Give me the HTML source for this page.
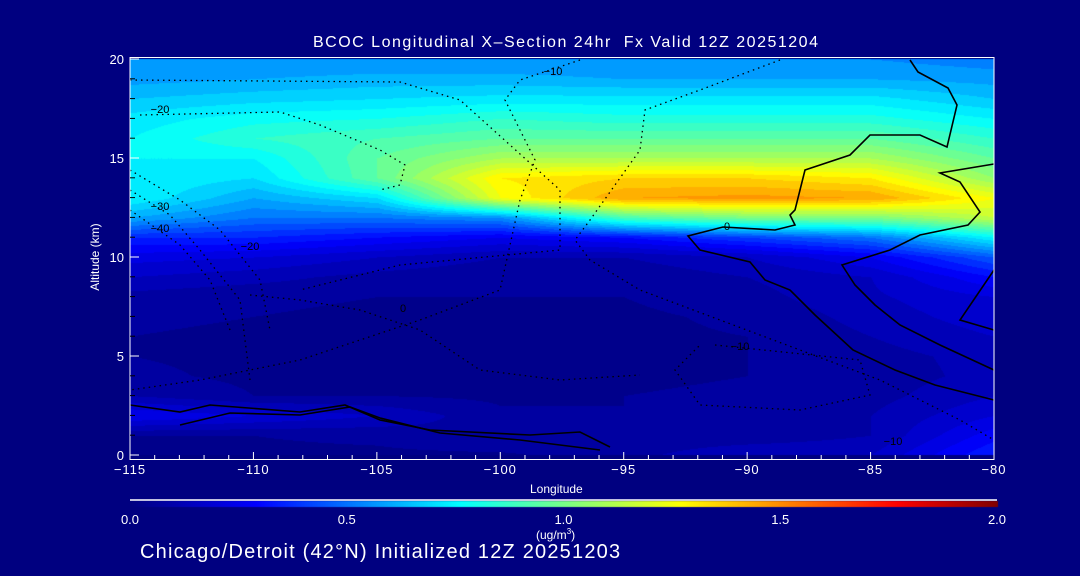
<!DOCTYPE html>
<html><head><meta charset="utf-8">
<style>
html,body{margin:0;padding:0;background:#000080;}
#wrap{position:relative;width:1080px;height:576px;background:#000080;overflow:hidden;font-family:"Liberation Sans",sans-serif;color:#fff;}
.t{position:absolute;white-space:nowrap;color:#fff;}
canvas,svg{position:absolute;left:0;top:0;}
</style></head>
<body>
<div id="wrap">
<canvas id="field" width="1080" height="576"></canvas>
<svg id="ov" width="1080" height="576"></svg>
<div class="t" style="left:313px;top:34px;font-size:16px;letter-spacing:1.5px;">BCOC Longitudinal X–Section 24hr&nbsp; Fx Valid 12Z 20251204</div>
<div class="t" style="left:50px;top:250px;font-size:12px;transform:rotate(-90deg);transform-origin:center;width:90px;text-align:center;">Altitude (km)</div>
<div class="t" style="left:530px;top:482px;font-size:12px;">Longitude</div>
<div class="t" style="left:536px;top:527px;font-size:12px;">(ug/m<sup style="font-size:8px">3</sup>)</div>
<div class="t" style="left:140px;top:541px;font-size:20px;letter-spacing:1.2px;">Chicago/Detroit (42°N) Initialized 12Z 20251203</div>
</div>
<script>
// ---- data ----
const lons = [-115,-110,-105,-100,-95,-90,-85,-80];
const alts = [0,1,2,3,4,5,6,7,8,9,10,11,12,13,14,15,16,17,18,19,20];
const colM115 = [0.04,0.05,0.25,0.1,0.06,0.05,0.05,0.06,0.08,0.15,0.22,0.35,0.6,0.75,0.75,0.75,0.75,0.72,0.65,0.58,0.55];
const colM110 = [0.04,0.05,0.2,0.05,0.04,0.04,0.04,0.05,0.06,0.12,0.2,0.35,0.5,0.6,0.7,0.75,0.85,0.78,0.68,0.6,0.55];
const colM105 = [0.04,0.06,0.15,0.05,0.04,0.04,0.04,0.04,0.05,0.08,0.15,0.3,0.5,0.7,0.95,0.95,0.9,0.8,0.7,0.62,0.55];
const colM100 = [0.04,0.1,0.06,0.04,0.04,0.04,0.04,0.04,0.05,0.06,0.1,0.25,0.55,1.25,1.3,1.1,0.95,0.85,0.72,0.62,0.55];
const colM95 = [0.08,0.06,0.05,0.05,0.04,0.04,0.04,0.04,0.05,0.06,0.1,0.3,0.9,1.45,1.35,1.1,0.95,0.82,0.72,0.6,0.55];
const colM90 = [0.15,0.06,0.06,0.06,0.05,0.05,0.05,0.06,0.08,0.1,0.15,0.4,1.0,1.47,1.35,1.1,0.95,0.82,0.72,0.6,0.55];
const colM85 = [0.15,0.1,0.1,0.08,0.07,0.08,0.1,0.12,0.14,0.15,0.25,0.5,1.0,1.45,1.3,1.1,0.95,0.82,0.72,0.6,0.55];
const colM80 = [0.35,0.28,0.2,0.15,0.12,0.12,0.15,0.18,0.2,0.3,0.45,0.75,1.15,1.25,1.05,0.95,0.85,0.75,0.65,0.58,0.52];
const xTicks = [-115,-110,-105,-100,-95,-90,-85,-80];
const yTicks = [0,5,10,15,20];
const cbTicks = [0.0,0.5,1.0,1.5,2.0];
// ---- scales ----
const X0=130,X1=994,Y0=455,Y1=59;
const xs=v=>X0+(v-(-115))/35*(X1-X0);
const ys=v=>Y0-(v/20)*(Y0-Y1);
const cbx=v=>130+v/2*(997-130);
const stops=[[0,[0,0,128]],[0.29,[0,0,255]],[0.76,[0,255,255]],[1.27,[255,255,0]],[1.77,[255,0,0]],[2.0,[128,0,0]]];
function cmap(v){v=Math.max(0,Math.min(2,v));for(let i=0;i<stops.length-1;i++){const a=stops[i],b=stops[i+1];if(v<=b[0]){const t=(v-a[0])/(b[0]-a[0]);return a[1].map((c,k)=>Math.round(c+(b[1][k]-c)*t));}}return stops[stops.length-1][1];}
const grid=[colM115,colM110,colM105,colM100,colM95,colM90,colM85,colM80];
function val(lon,alt){
  let fi=(lon-lons[0])/5; fi=Math.max(0,Math.min(lons.length-1.0001,fi));
  let fj=alt; fj=Math.max(0,Math.min(alts.length-1.0001,fj));
  const i=Math.floor(fi),j=Math.floor(fj),u=fi-i,w=fj-j;
  return (grid[i][j]*(1-u)+grid[i+1][j]*u)*(1-w)+(grid[i][j+1]*(1-u)+grid[i+1][j+1]*u)*w;
}
const cv=document.getElementById('field'),ctx=cv.getContext('2d');
const img=ctx.createImageData(X1-X0,Y0-Y1);
for(let py=0;py<Y0-Y1;py++){for(let px=0;px<X1-X0;px++){
  const lon=-115+px/(X1-X0)*35, alt=20-py/(Y0-Y1)*20;
  let v=val(lon,alt); v=Math.floor(v/0.05)*0.05+0.025;
  const c=cmap(v),k=(py*(X1-X0)+px)*4;
  img.data[k]=c[0];img.data[k+1]=c[1];img.data[k+2]=c[2];img.data[k+3]=255;}}
ctx.putImageData(img,X0,Y1);
for(let px=130;px<=997;px++){const c=cmap((px-130)/(997-130)*2);ctx.fillStyle=`rgb(${c[0]},${c[1]},${c[2]})`;ctx.fillRect(px,501,1,6);}
// ---- overlay ----
const svg=document.getElementById('ov'),NS='http://www.w3.org/2000/svg';
function mk(tag,attrs){const e=document.createElementNS(NS,tag);for(const k in attrs)e.setAttribute(k,attrs[k]);svg.appendChild(e);return e;}
const solid=["M910,60 L918,72 L948,88 L957,105 L947,147 L920,135 L870,135 L850,155 L805,170 L795,210 L790,215 L795,225 L775,230 L723,227 L688,236 L700,250 L750,262 L765,280 L790,290 L815,315 L853,350 L895,370 L935,385 L994,400",
"M994,164 L940,173 L960,182 L980,212 L968,225 L920,235 L890,250 L842,265 L855,285 L875,305 L900,325 L940,345 L994,370",
"M994,270 L960,320 L994,330",
"M130,405 L180,412 L210,405 L300,412 L345,405 L380,420 L430,430 L530,435 L580,432 L610,447",
"M180,425 L230,413 L300,415 L350,407 L380,418 L440,433 L520,440 L600,450"];
solid.forEach((d,i)=>{const p=mk('path',{d:d,fill:'none',stroke:'#000','stroke-width':1.6});

});
const dotted=["M130,80 L400,82 L460,100 L560,190 L560,250 L400,265 L300,290",
"M140,115 L280,112 L320,125 L380,150 L405,165 L400,185 L380,190",
"M580,60 L520,80 L505,100 L520,130 L535,160 L520,200 L500,290 L420,320 L300,360 L200,380 L130,390",
"M780,60 L700,90 L645,110 L640,150 L590,220 L575,240 L590,260 L640,290 L720,320 L800,350 L880,380 L960,420 L994,440",
"M130,170 L180,200 L220,230 L260,280 L270,330",
"M130,210 L180,245 L210,280 L230,330",
"M130,190 L170,215 L200,250 L240,300 L250,380",
"M715,345 L860,360 L870,395 L800,410 L700,405 L675,370 L700,345",
"M250,295 L300,300 L360,310 L420,330 L480,370 L560,380 L640,375"];
dotted.forEach((d,i)=>{const p=mk('path',{d:d,fill:'none',stroke:'#000','stroke-width':1.3,'stroke-dasharray':'1.5 4'});

});
const fr=mk('rect',{x:130,y:57.5,width:864,height:402,fill:'none',stroke:'#fff','stroke-width':1});


const cbl=mk('line',{x1:130,y1:500,x2:997,y2:500,stroke:'#fff','stroke-width':1.5});


for(let v=-115;v<=-80;v++){const maj=xTicks.includes(v);const l=mk('line',{x1:xs(v),x2:xs(v),y1:460,y2:maj?452:455,stroke:'#fff','stroke-width':1});

}
xTicks.forEach(v=>{const t=mk('text',{x:xs(v),y:474,fill:'#fff','font-size':13,'text-anchor':'middle','letter-spacing':1,'font-family':'Liberation Sans, sans-serif'});t.textContent=(v<0?'\u2212'+(-v):v);

});
for(let v=0;v<=20;v++){const maj=yTicks.includes(v);const l=mk('line',{x1:130,x2:maj?139:135,y1:ys(v),y2:ys(v),stroke:maj?'#fff':'#000','stroke-width':1});

}
yTicks.forEach(v=>{const t=mk('text',{x:124,y:ys(v)+5,fill:'#fff','font-size':13,'text-anchor':'end','font-family':'Liberation Sans, sans-serif'});t.textContent=v;

});
cbTicks.forEach(v=>{const t=mk('text',{x:cbx(v),y:524,fill:'#fff','font-size':13,'text-anchor':'middle','font-family':'Liberation Sans, sans-serif'});t.textContent=v.toFixed(1);

});
const labs=[[553,75,'\u221210'],[160,113,'\u221220'],[727,230,'0'],[160,210,'\u221230'],[160,232,'\u221240'],[250,250,'\u221220'],[403,312,'0'],[740,350,'\u221210'],[893,445,'\u221210']];
labs.forEach(a=>{const t=mk('text',{x:a[0],y:a[1],fill:'#000','font-size':11,'text-anchor':'middle','font-family':'Liberation Sans, sans-serif'});t.textContent=a[2];

});
</script>
</body></html>
